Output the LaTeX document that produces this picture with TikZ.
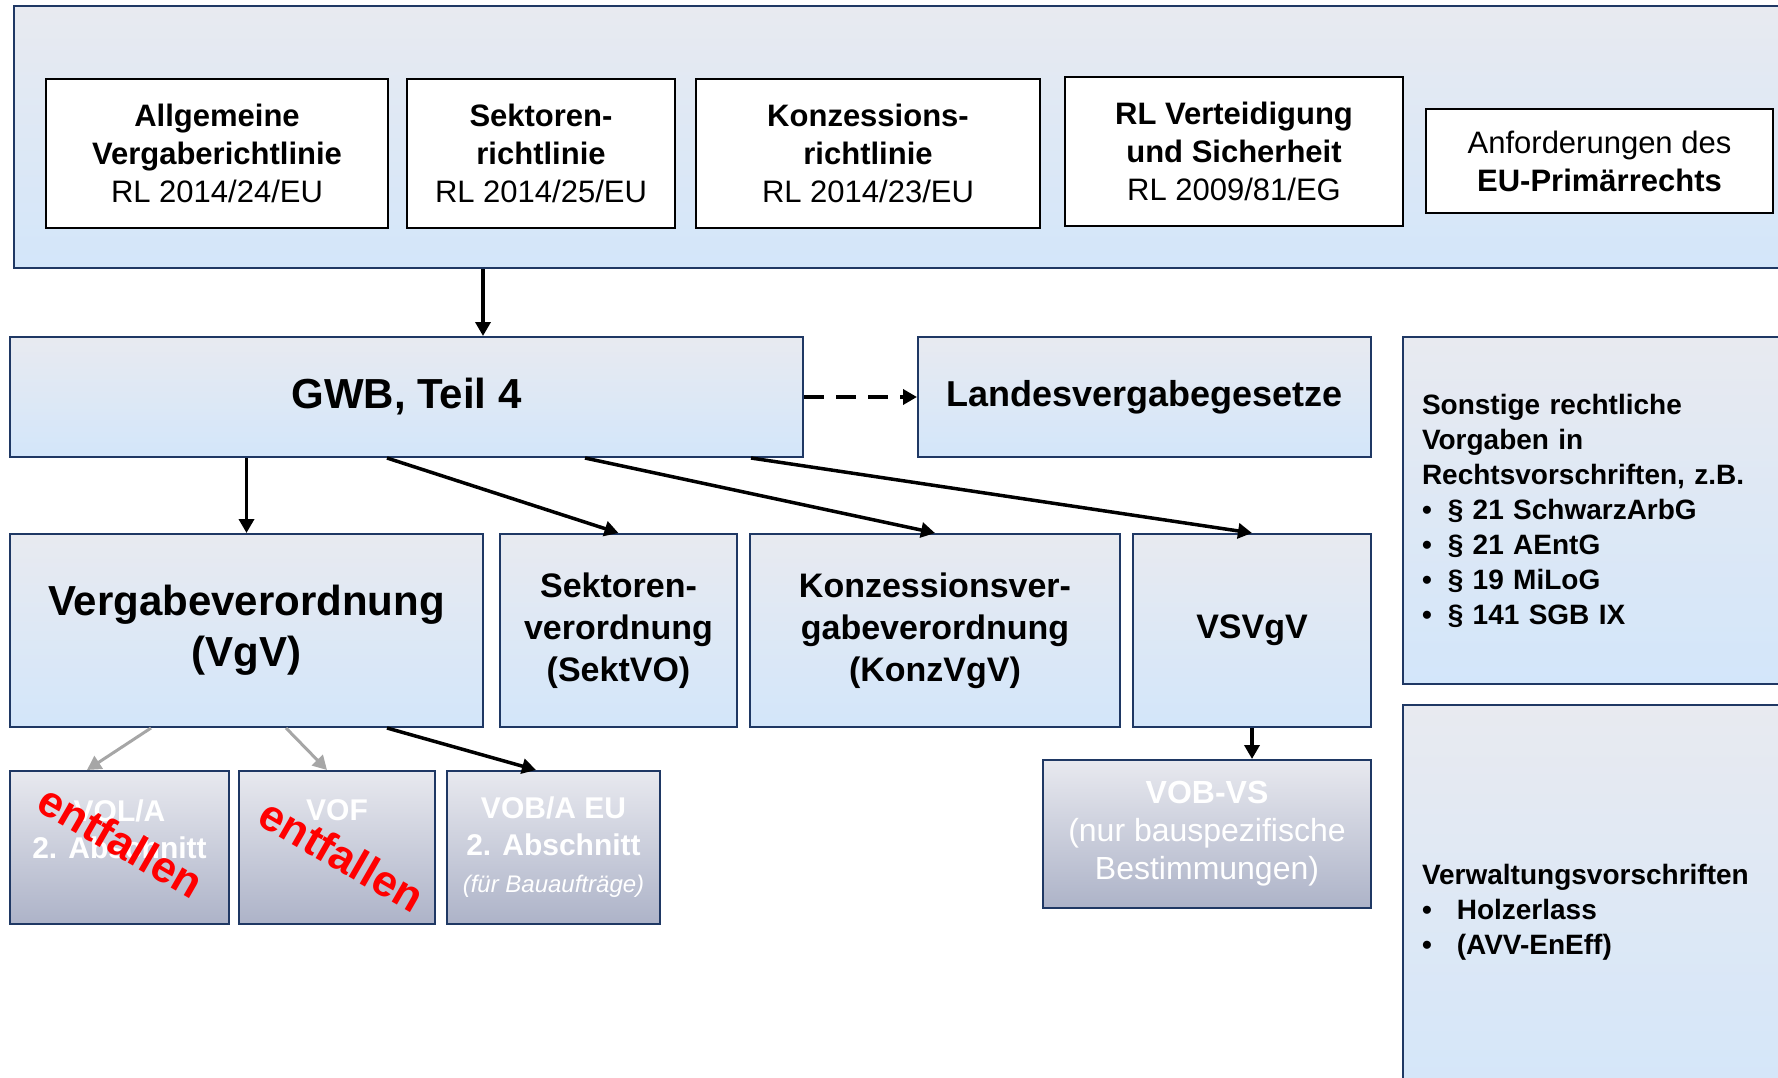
\documentclass[tikz,border=0pt]{standalone}
\usepackage{fontspec}
\setmainfont{Liberation Sans}
\usetikzlibrary{arrows.meta}
\definecolor{frame}{HTML}{1F3864}
\definecolor{paletop}{HTML}{E8EAF0}
\definecolor{palebot}{HTML}{D3E6FA}
\definecolor{greytop}{HTML}{E8E9EF}
\definecolor{greybot}{HTML}{ADB3C8}
\definecolor{arrowgrey}{HTML}{A6A6A6}
\begin{document}
\begin{tikzpicture}[
    x=1pt, y=-1pt,
    every node/.style={inner sep=0pt, align=center, text=black},
    bluebox/.style={draw=frame, line width=2pt, top color=paletop, bottom color=palebot},
    greybox/.style={draw=frame, line width=2pt, top color=greytop, bottom color=greybot,
        text=white, font=\bfseries\fontsize{30}{37}\selectfont},
    rlbox/.style={draw=black, line width=2.5pt, fill=white, font=\fontsize{31}{38}\selectfont},
    lawbox/.style={bluebox, font=\bfseries\fontsize{34}{42}\selectfont},
    notebox/.style={bluebox, align=left, text width=359pt, inner xsep=19pt,
        font=\bfseries\fontsize{28}{35}\selectfont},
    dropped/.style={text=red, rotate=-30, font=\bfseries\fontsize{44}{50}\selectfont},
    arr/.style={line width=3.5pt, -{Triangle[length=14pt,width=15pt]}},
    greyarr/.style={arr, draw=arrowgrey, line width=3pt}
]
\useasboundingbox (0,0) rectangle (1778,1078);
\clip (0,0) rectangle (1778,1078);

% EU-Ebene
\node[bluebox, minimum width=1790pt, minimum height=262pt] (eu) at (909,137) {};
\node[rlbox, minimum width=342pt, minimum height=149pt] (allg) at (217,153.5)
    {\textbf{Allgemeine}\\\textbf{Vergaberichtlinie}\\RL 2014/24/EU};
\node[rlbox, minimum width=268pt, minimum height=149pt] (sekt) at (541,153.5)
    {\textbf{Sektoren-}\\\textbf{richtlinie}\\RL 2014/25/EU};
\node[rlbox, minimum width=344pt, minimum height=149pt] (konz) at (868,153.5)
    {\textbf{Konzessions-}\\\textbf{richtlinie}\\RL 2014/23/EU};
\node[rlbox, minimum width=338pt, minimum height=149pt] (vert) at (1234,151.5)
    {\textbf{RL Verteidigung}\\\textbf{und Sicherheit}\\RL 2009/81/EG};
\node[rlbox, minimum width=347pt, minimum height=104pt] (prim) at (1599.5,161)
    {Anforderungen des\\\textbf{EU-Primärrechts}};

% Gesetze
\node[bluebox, minimum width=793pt, minimum height=120pt,
    font=\bfseries\fontsize{42}{50}\selectfont] (gwb) at (406.5,397) {GWB, Teil 4};
\node[bluebox, minimum width=453pt, minimum height=120pt,
    font=\bfseries\fontsize{36}{44}\selectfont] (lvg) at (1144.5,397) {Landesvergabegesetze};
\node[notebox, minimum height=347pt] (sonst) at (1601.5,510.5)
    {Sonstige rechtliche\\Vorgaben in\\Rechtsvorschriften, z.B.\\
     •\hspace{16pt}§ 21 SchwarzArbG\\•\hspace{16pt}§ 21 AEntG\\
     •\hspace{16pt}§ 19 MiLoG\\•\hspace{16pt}§ 141 SGB IX};
\node[notebox, minimum height=414pt] (verw) at (1601.5,912)
    {Verwaltungsvorschriften\\•\hspace{25pt}Holzerlass\\•\hspace{25pt}(AVV-EnEff)};

% Verordnungen
\node[bluebox, minimum width=473pt, minimum height=193pt,
    font=\bfseries\fontsize{42}{51}\selectfont] (vgv) at (246.5,630.5)
    {Vergabeverordnung\\(VgV)};
\node[lawbox, minimum width=237pt, minimum height=193pt] (sektvo) at (618.5,630.5)
    {Sektoren-\\verordnung\\(SektVO)};
\node[lawbox, minimum width=370pt, minimum height=193pt] (konzvgv) at (935,630.5)
    {Konzessionsver-\\gabeverordnung\\(KonzVgV)};
\node[lawbox, minimum width=238pt, minimum height=193pt] (vsvgv) at (1252,630.5) {VSVgV};

% Vergabeordnungen
\node[greybox, minimum width=219pt, minimum height=153pt] (vola) at (119.5,847.5)
    {VOL/A\\2. Abschnitt\\~};
\node[greybox, minimum width=196pt, minimum height=153pt] (vof) at (337,847.5)
    {VOF\\~\\~};
\node[greybox, minimum width=213pt, minimum height=153pt] (vobeu) at (553.5,847.5)
    {VOB/A EU\\2. Abschnitt\\{\mdseries\itshape\fontsize{24}{30}\selectfont (für Bauaufträge)}};
\node[greybox, minimum width=328pt, minimum height=148pt, font=\fontsize{32}{38}\selectfont]
    (vobvs) at (1207,834) {\textbf{VOB-VS}\\(nur bauspezifische\\Bestimmungen)};

\coordinate (gwbin) at ([xshift=76.5pt]gwb.north);
\draw[arr] (eu.south -| gwbin) -- (gwbin);
\draw[arr, dash pattern=on 20pt off 12pt] (gwb.east) -- (lvg.west);
\draw[arr] (gwb.south -| vgv.north) -- (vgv.north);
\draw[arr] ([xshift=-19.5pt]gwb.south) -- (sektvo.north);
\draw[arr] ([xshift=178.5pt]gwb.south) -- (konzvgv.north);
\draw[arr] ([xshift=344.5pt]gwb.south) -- (vsvgv.north);
\draw[greyarr] ([xshift=-95.5pt]vgv.south) -- ([xshift=-32.5pt]vola.north);
\draw[greyarr] ([xshift=39.5pt]vgv.south) -- ([xshift=-10pt]vof.north);
\draw[arr] ([xshift=140.5pt]vgv.south) -- ([xshift=-17.5pt]vobeu.north);
\draw[arr] (vsvgv.south) -- (vsvgv.south |- vobvs.north);

\node[dropped] (entf1) at (121,841) {entfallen};
\node[dropped] (entf2) at (342,855) {entfallen};
\end{tikzpicture}
\end{document}
